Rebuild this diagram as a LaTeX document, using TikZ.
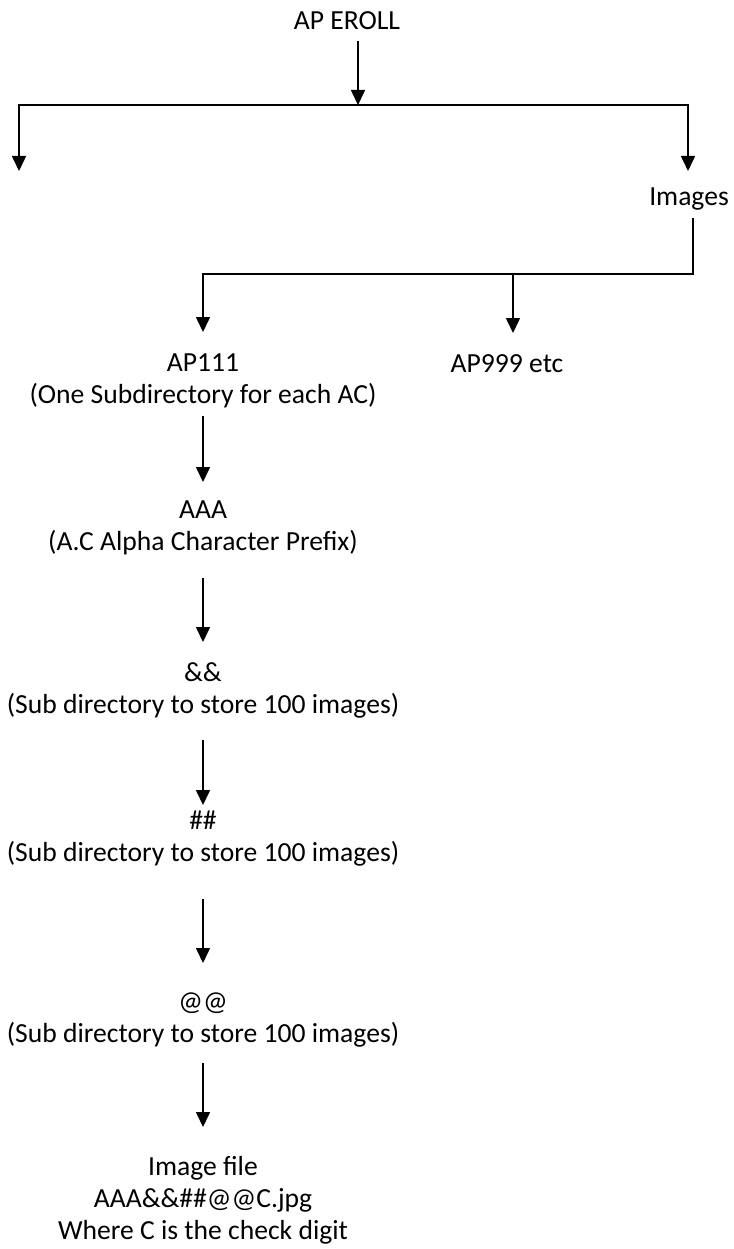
\documentclass[tikz,border=0pt]{standalone}
\usepackage{fontspec}
\setmainfont{Carlito}
\usetikzlibrary{arrows.meta}
\tikzset{>={Triangle[length=15pt,width=14pt]}}
\tikzset{dir/.style={anchor=north, align=center, inner sep=2pt, font=\fontsize{27.6}{32}\selectfont},
  link/.style={line width=1.6pt}}
\begin{document}
\begin{tikzpicture}[x=1pt,y=-1pt]
  \useasboundingbox (0,0) rectangle (733,1249);
  % directory names
  \node[dir] (eroll) at (347,9) {AP EROLL};
  \node[dir] (images) at (689,186) {Images};
  \node[dir] (ap111) at (203,352) {AP111\\(One Subdirectory for each AC)};
  \node[dir] (ap999) at (507,352) {AP999 etc};
  \node[dir] (aaa) at (203,499) {AAA\\(A.C Alpha Character Prefix)};
  \node[dir] (amp) at (203,660) {\&\&\\(Sub directory to store 100 images)};
  \node[dir] (hash) at (203,809) {\#\#\\(Sub directory to store 100 images)};
  \node[dir] (atat) at (203,991) {@@\\(Sub directory to store 100 images)};
  \node[dir] (imgfile) at (203,1154) {Image file\\AAA\&\&\#\#@@C.jpg\\Where C is the check digit};
  % branch points
  \coordinate (topL) at (19,105);
  \coordinate (topM) at (358,105);
  \coordinate (topR) at (688,105);
  \coordinate (leftend) at (19,171);
  \coordinate (subR) at (693,274);
  \coordinate (subA) at (203,274);
  \coordinate (subB) at (513,274);
  % first level
  \draw[link,->,shorten <=10pt] (eroll.south -| topM) -- (topM);
  \draw[link,<->,shorten >=15pt] (leftend) -- (topL) -- (topR) -- (topR |- images.north);
  % second level
  \draw[link,->,shorten >=20pt] ([yshift=-5pt]images.south -| subR) -- (subR) -- (subA) -- (ap111.north);
  \draw[link,->,shorten >=19pt] (subB) -- (subB |- ap999.north);
  % down the AP111 branch
  \draw[link,->,shorten <=5pt,shorten >=17pt] (ap111) -- (aaa);
  \draw[link,->,shorten <=20pt,shorten >=18pt] (aaa) -- (amp);
  \draw[link,->,shorten <=20pt,shorten >=4pt] (amp) -- (hash);
  \draw[link,->,shorten <=30pt,shorten >=28pt] (hash) -- (atat);
  \draw[link,->,shorten <=13pt,shorten >=27pt] (atat) -- (imgfile);
\end{tikzpicture}
\end{document}
